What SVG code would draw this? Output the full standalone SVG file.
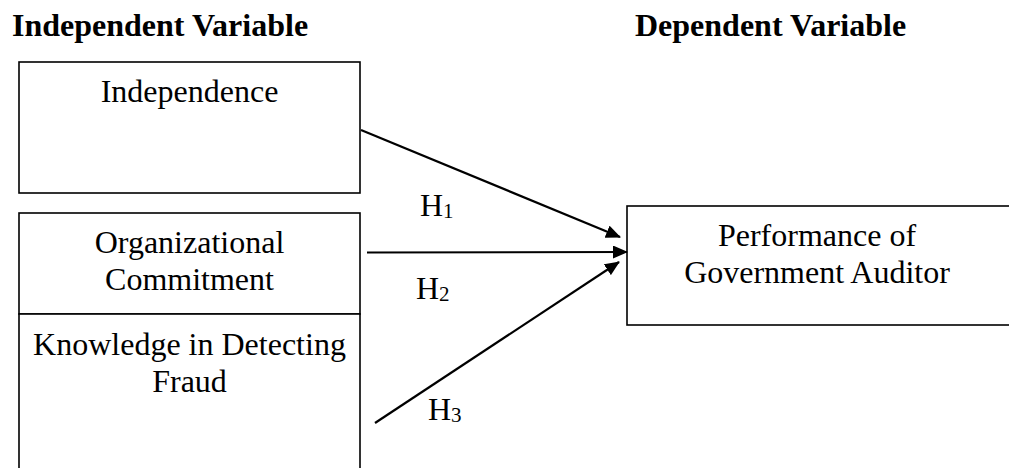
<svg xmlns="http://www.w3.org/2000/svg" width="1009" height="468" viewBox="0 0 1009 468">
<style>
.box{fill:#fff;stroke:#000;stroke-width:1.6}
.t{font-family:"Liberation Serif","Times New Roman",serif;font-size:32px;fill:#000}
.h{font-family:"Liberation Serif","Times New Roman",serif;font-size:32px;font-weight:bold;fill:#000}
.sub{font-size:21px}
.c{text-anchor:middle}
.con{stroke:#000;stroke-width:2.2;fill:none;marker-end:url(#ah)}
</style>
<defs>
<marker id="ah" markerWidth="15" markerHeight="13" refX="14" refY="6.5" orient="auto" markerUnits="userSpaceOnUse">
<path d="M0,0 L15,6.5 L0,13 Z" fill="#000"/>
</marker>
</defs>
<text class="h" x="12" y="36">Independent Variable</text>
<text class="h" x="635" y="36">Dependent Variable</text>
<g id="independence">
<rect class="box" x="19" y="62" width="341" height="131"/>
<text class="t c" x="189.5" y="102">Independence</text>
</g>
<g id="orgcommit">
<rect class="box" x="19" y="213" width="341" height="101"/>
<text class="t c" x="189.5" y="253">Organizational</text>
<text class="t c" x="189.5" y="290">Commitment</text>
</g>
<g id="knowledge">
<rect class="box" x="19" y="314" width="341" height="170"/>
<text class="t c" x="189.5" y="355">Knowledge in Detecting</text>
<text class="t c" x="189.5" y="392">Fraud</text>
</g>
<g id="performance">
<rect class="box" x="627" y="206" width="400" height="119"/>
<text class="t c" x="817" y="246">Performance of</text>
<text class="t c" x="817" y="283">Government Auditor</text>
</g>
<g id="connectors">
<line class="con" x1="361" y1="130" x2="620" y2="237"/>
<line class="con" x1="367" y1="252.5" x2="627" y2="252"/>
<line class="con" x1="375" y1="423" x2="619" y2="262"/>
<text class="t" x="420" y="216">H<tspan class="sub" dy="2">1</tspan></text>
<text class="t" x="416" y="299">H<tspan class="sub" dy="2">2</tspan></text>
<text class="t" x="428" y="420">H<tspan class="sub" dy="2">3</tspan></text>
</g>
</svg>
